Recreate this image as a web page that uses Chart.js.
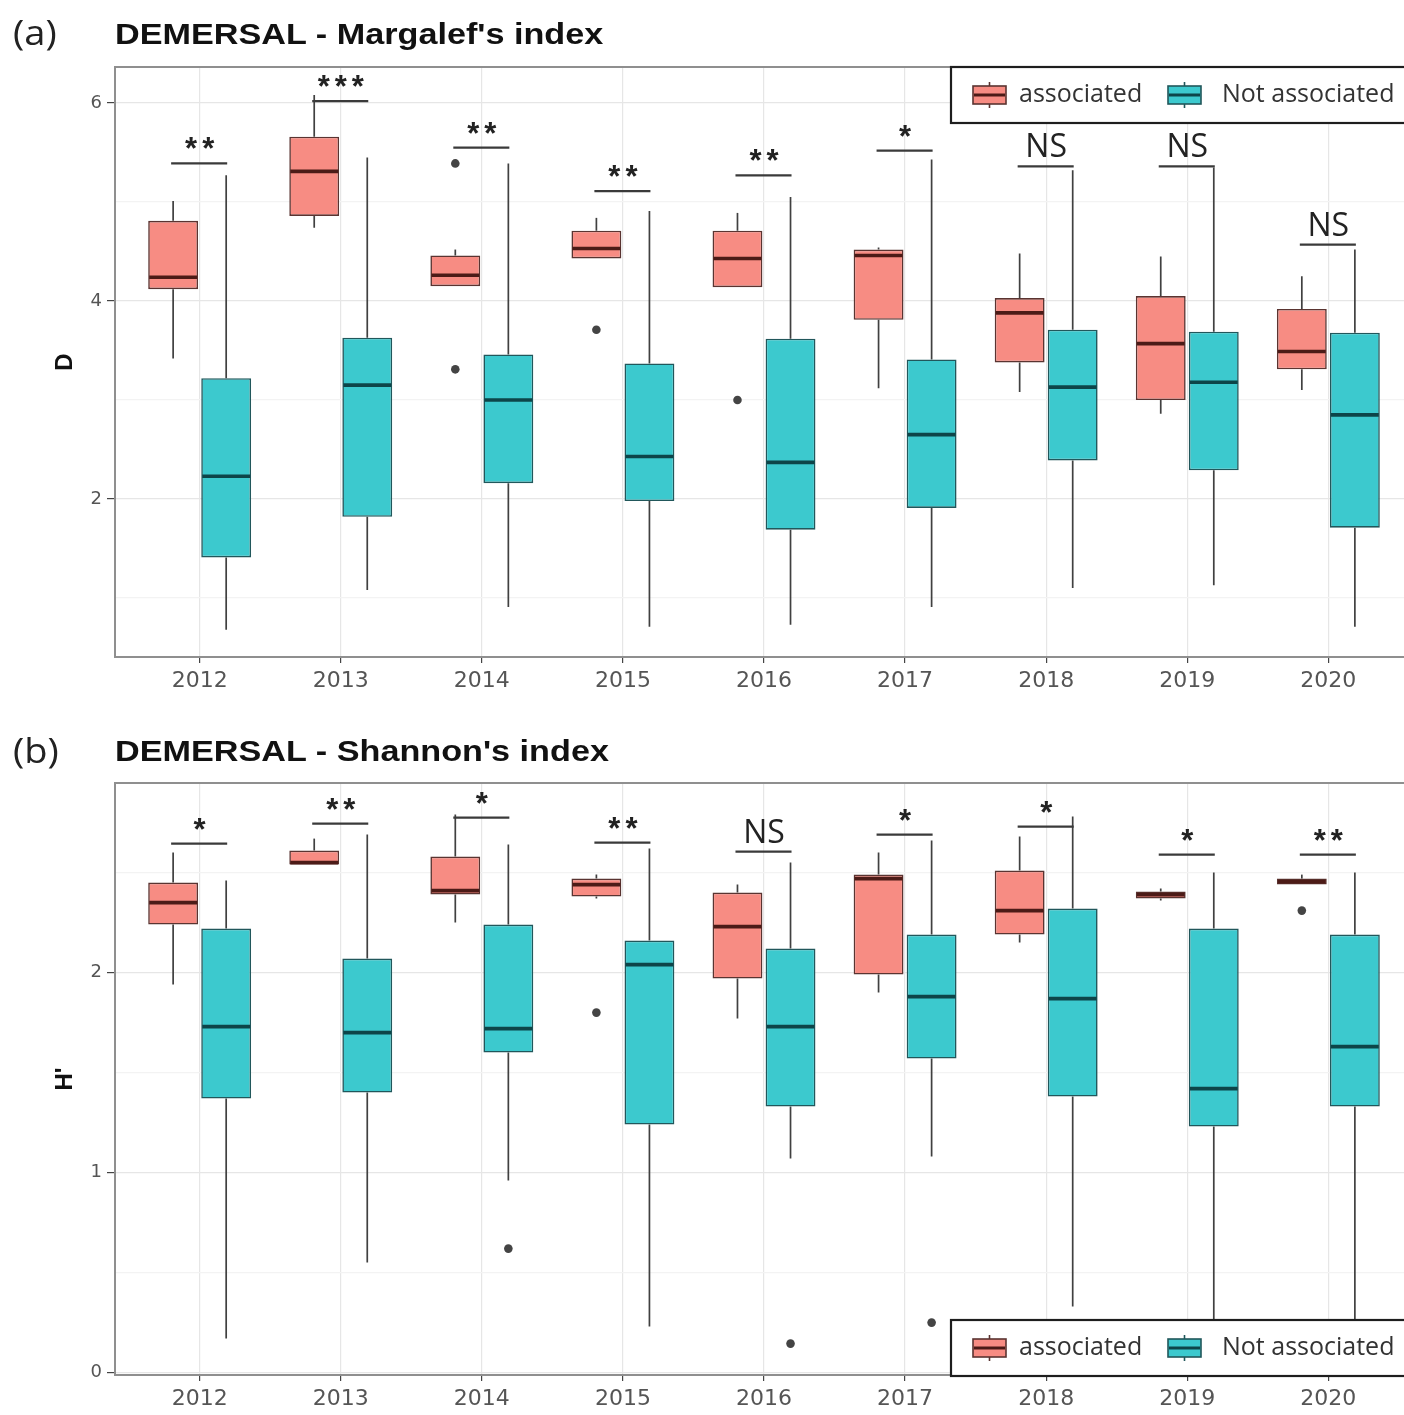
<!DOCTYPE html>
<html>
<head>
<meta charset="utf-8">
<title>DEMERSAL - diversity indices</title>
<script src="https://cdn.jsdelivr.net/npm/chart.js@4.4.1/dist/chart.umd.min.js"></script>
<style>
  html, body { margin: 0; padding: 0; background: #fff; overflow: hidden; width: 1404px; height: 1415px; }
  canvas { position: absolute; left: 0; }
  .tag { position: absolute; font-family: "Open Sans", sans-serif; font-size: 34px; color: #222; line-height: 1; transform: scaleX(1.12); transform-origin: left top; }
  .heading { position: absolute; font-family: "Liberation Sans", Arial, sans-serif; font-weight: bold; font-size: 30px; color: #111; line-height: 1; white-space: nowrap; transform: scaleX(1.14); transform-origin: left top; }
</style>
</head>
<body>
<canvas id="chartA" width="1420" height="700" style="top:0"></canvas>
<canvas id="chartB" width="1420" height="695" style="top:720px"></canvas>
<div class="tag" style="left:13px;top:15px">(a)</div>
<div class="heading" style="left:115px;top:19px">DEMERSAL - Margalef's index</div>
<div class="tag" style="left:13px;top:733px">(b)</div>
<div class="heading" style="left:115px;top:736px">DEMERSAL - Shannon's index</div>
<script>
// Survey years and groups
const years = [2012, 2013, 2014, 2015, 2016, 2017, 2018, 2019, 2020];
const seriesNames = ['associated', 'Not associated'];

// Margalef's index (D): [lower whisker, Q1, median, Q3, upper whisker] per year
const margalefAssociated = [
  [3.42, 4.12, 4.24, 4.81, 5.01],
  [4.74, 4.86, 5.31, 5.66, 6.08],
  [4.15, 4.15, 4.26, 4.46, 4.52],
  [4.43, 4.43, 4.53, 4.71, 4.84],
  [4.14, 4.14, 4.43, 4.71, 4.89],
  [3.12, 3.81, 4.46, 4.52, 4.54],
  [3.08, 3.38, 3.88, 4.03, 4.48],
  [2.86, 3.00, 3.57, 4.05, 4.45],
  [3.10, 3.31, 3.49, 3.92, 4.25]
];
const margalefNotAssociated = [
  [0.68, 1.41, 2.23, 3.22, 5.27],
  [1.08, 1.82, 3.15, 3.63, 5.45],
  [0.91, 2.16, 3.00, 3.46, 5.39],
  [0.71, 1.98, 2.43, 3.37, 4.91],
  [0.73, 1.69, 2.37, 3.62, 5.05],
  [0.91, 1.91, 2.65, 3.41, 5.43],
  [1.10, 2.39, 3.13, 3.71, 5.32],
  [1.13, 2.29, 3.18, 3.69, 5.35],
  [0.71, 1.71, 2.85, 3.68, 4.52]
];
const margalefAssociatedOutliers = [[], [], [5.39, 3.31], [3.71], [3.0], [], [], [], []];
const margalefNotAssociatedOutliers = [[], [], [], [], [], [], [], [], []];
const margalefSignif = ['**', '***', '**', '**', '**', '*', 'NS', 'NS', 'NS'];
const margalefSignifAt = [5.39, 6.02, 5.55, 5.11, 5.27, 5.52, 5.36, 5.36, 4.57];

// Shannon's index (H'): [lower whisker, Q1, median, Q3, upper whisker] per year
const shannonAssociated = [
  [1.94, 2.24, 2.35, 2.45, 2.60],
  [2.54, 2.54, 2.55, 2.61, 2.67],
  [2.25, 2.39, 2.41, 2.58, 2.79],
  [2.37, 2.38, 2.44, 2.47, 2.49],
  [1.77, 1.97, 2.23, 2.40, 2.44],
  [1.90, 1.99, 2.47, 2.49, 2.60],
  [2.15, 2.19, 2.31, 2.51, 2.68],
  [2.36, 2.37, 2.39, 2.405, 2.42],
  [2.44, 2.44, 2.455, 2.47, 2.49]
];
const shannonNotAssociated = [
  [0.17, 1.37, 1.73, 2.22, 2.46],
  [0.55, 1.40, 1.70, 2.07, 2.69],
  [0.96, 1.60, 1.72, 2.24, 2.64],
  [0.23, 1.24, 2.04, 2.16, 2.62],
  [1.07, 1.33, 1.73, 2.12, 2.55],
  [1.08, 1.57, 1.88, 2.19, 2.66],
  [0.33, 1.38, 1.87, 2.32, 2.78],
  [0.25, 1.23, 1.42, 2.22, 2.50],
  [0.20, 1.33, 1.63, 2.19, 2.50]
];
const shannonAssociatedOutliers = [[], [], [], [1.80], [], [], [], [], [2.31]];
const shannonNotAssociatedOutliers = [[], [], [0.62], [], [0.145], [0.25], [], [], []];
const shannonSignif = ['*', '**', '*', '**', 'NS', '*', '*', '*', '**'];
const shannonSignifAt = [2.645, 2.745, 2.775, 2.65, 2.605, 2.69, 2.73, 2.59, 2.59];

// Styling
const fills = ['#f78c83', '#3cc9ce'];
const edges = ['#5a3431', '#21575b'];
const medians = ['#4c1b17', '#0d4549'];
const tickFont = "'DejaVu Sans', sans-serif";

Chart.defaults.animation = false;

// Whiskers, medians, outliers, significance brackets, frame and legend for the box plots
const boxplotParts = {
  id: 'boxplotParts',
  beforeDatasetsDraw(chart) {
    const {ctx} = chart;
    const y = chart.scales.y;
    ctx.save();
    ctx.strokeStyle = '#404040';
    ctx.lineWidth = 1.7;
    chart.data.datasets.forEach((ds, di) => {
      chart.getDatasetMeta(di).data.forEach((bar, i) => {
        const s = ds.summary[i];
        ctx.beginPath();
        ctx.moveTo(bar.x, y.getPixelForValue(s[4]));
        ctx.lineTo(bar.x, y.getPixelForValue(s[3]));
        ctx.moveTo(bar.x, y.getPixelForValue(s[1]));
        ctx.lineTo(bar.x, y.getPixelForValue(s[0]));
        ctx.stroke();
      });
    });
    ctx.restore();
  },
  afterDatasetsDraw(chart, args, opts) {
    const {ctx} = chart;
    const y = chart.scales.y;
    ctx.save();
    chart.data.datasets.forEach((ds, di) => {
      chart.getDatasetMeta(di).data.forEach((bar, i) => {
        const s = ds.summary[i];
        const half = bar.width / 2 - 1;
        const my = y.getPixelForValue(s[2]);
        ctx.strokeStyle = ds.medianColor;
        ctx.lineWidth = 3.6;
        ctx.beginPath();
        ctx.moveTo(bar.x - half, my);
        ctx.lineTo(bar.x + half, my);
        ctx.stroke();
        ctx.fillStyle = '#444';
        ds.outliers[i].forEach(v => {
          ctx.beginPath();
          ctx.arc(bar.x, y.getPixelForValue(v), 4.3, 0, Math.PI * 2);
          ctx.fill();
        });
      });
    });
    // significance brackets between the two groups of each year
    const m0 = chart.getDatasetMeta(0).data;
    const m1 = chart.getDatasetMeta(1).data;
    opts.signif.forEach((label, i) => {
      const yy = y.getPixelForValue(opts.signifAt[i]);
      const xa = m0[i].x, xb = m1[i].x;
      ctx.strokeStyle = '#3a3a3a';
      ctx.lineWidth = 2.2;
      ctx.beginPath();
      ctx.moveTo(xa - 2, yy);
      ctx.lineTo(xb + 1, yy);
      ctx.stroke();
      ctx.fillStyle = '#222';
      ctx.textAlign = 'center';
      ctx.textBaseline = 'alphabetic';
      if (label === 'NS') {
        ctx.font = "32px 'Open Sans', sans-serif";
        ctx.letterSpacing = '0px';
        ctx.fillText(label, (xa + xb) / 2, yy - 9);
      } else {
        ctx.font = "bold 31px 'Liberation Sans', Arial, sans-serif";
        ctx.letterSpacing = '5px';
        ctx.fillText(label, (xa + xb) / 2 + 2.5, yy - 4);
      }
    });
    ctx.restore();
  },
  afterDraw(chart, args, opts) {
    const {ctx, chartArea: a} = chart;
    ctx.save();
    ctx.strokeStyle = '#8f8f8f';
    ctx.lineWidth = 2;
    ctx.strokeRect(a.left, a.top, a.right - a.left, a.bottom - a.top);
    // legend box
    const lt = opts.legendTop, lb = opts.legendBottom, lx = 951;
    ctx.fillStyle = '#fff';
    ctx.fillRect(lx, lt, chart.width - lx + 10, lb - lt);
    ctx.strokeStyle = '#1e1e1e';
    ctx.lineWidth = 2.2;
    ctx.strokeRect(lx, lt, chart.width - lx + 10, lb - lt);
    const cy = (lt + lb) / 2;
    const items = [{x: 973, tx: 1019}, {x: 1168, tx: 1222}];
    chart.data.datasets.forEach((ds, di) => {
      const it = items[di];
      const w = 33;
      const cx = it.x + w / 2;
      ctx.strokeStyle = ds.borderColor;
      ctx.lineWidth = 1.6;
      ctx.beginPath();
      ctx.moveTo(cx, cy - 13);
      ctx.lineTo(cx, cy + 13);
      ctx.stroke();
      ctx.fillStyle = ds.backgroundColor;
      ctx.fillRect(it.x, cy - 9, w, 18);
      ctx.strokeRect(it.x, cy - 9, w, 18);
      ctx.strokeStyle = ds.medianColor;
      ctx.lineWidth = 3;
      ctx.beginPath();
      ctx.moveTo(it.x + 1, cy);
      ctx.lineTo(it.x + w - 1, cy);
      ctx.stroke();
      ctx.fillStyle = '#333';
      ctx.font = "25px 'Open Sans', sans-serif";
      ctx.textAlign = 'left';
      ctx.textBaseline = 'middle';
      ctx.fillText(ds.label, it.tx, cy);
    });
    ctx.restore();
  }
};

function makePanel(id, o) {
  const sets = [o.assoc, o.notAssoc];
  const outs = [o.assocOut, o.notAssocOut];
  return new Chart(document.getElementById(id), {
    type: 'bar',
    data: {
      datasets: seriesNames.map((name, k) => ({
        label: name,
        data: years.map((yr, i) => ({x: yr, y: [sets[k][i][1], sets[k][i][3]]})),
        summary: sets[k],
        outliers: outs[k],
        backgroundColor: fills[k],
        borderColor: edges[k],
        medianColor: medians[k],
        borderWidth: 1.6,
        borderSkipped: false,
        categoryPercentage: 0.752,
        barPercentage: 0.94
      }))
    },
    options: {
      responsive: false,
      animation: false,
      layout: {padding: {left: 0, right: 7, top: o.padTop, bottom: 0}},
      plugins: {
        legend: {display: false},
        tooltip: {enabled: false},
        boxplotParts: {signif: o.signif, signifAt: o.signifAt, legendTop: o.legendTop, legendBottom: o.legendBottom}
      },
      scales: {
        x: {
          type: 'linear',
          min: 2011.4,
          max: 2020.6,
          offset: false,
          afterBuildTicks: s => { s.ticks = years.map(v => ({value: v})); },
          afterFit: s => { s.height = o.xAxisHeight; },
          ticks: {callback: v => String(v), font: {family: tickFont, size: 22}, color: '#555', padding: 5, maxRotation: 0, autoSkip: false},
          grid: {offset: false, color: '#e6e6e6', lineWidth: 1.2, tickLength: 6, tickColor: '#444'},
          border: {display: false}
        },
        y: {
          type: 'linear',
          min: o.yMin,
          max: o.yMax,
          afterBuildTicks: s => { s.ticks = o.yTicks.map(v => ({value: v})); },
          afterFit: s => { s.width = 115; },
          ticks: {callback: v => o.isMajor(v) ? String(v) : '', font: {family: tickFont, size: 18}, color: '#555', padding: 5},
          grid: {
            color: c => o.isMajor(c.tick.value) ? '#e6e6e6' : '#f3f3f3',
            lineWidth: 1.2,
            tickLength: 8,
            tickColor: c => o.isMajor(c.tick.value) ? '#444' : 'rgba(0,0,0,0)'
          },
          border: {display: false},
          title: {display: true, text: o.axisTitle, font: {family: "'Liberation Sans', Arial, sans-serif", size: 24, weight: 'bold'}, color: '#111', padding: {top: 51, bottom: 0}}
        }
      }
    },
    plugins: [boxplotParts]
  });
}

makePanel('chartA', {
  assoc: margalefAssociated, notAssoc: margalefNotAssociated,
  assocOut: margalefAssociatedOutliers, notAssocOut: margalefNotAssociatedOutliers,
  signif: margalefSignif, signifAt: margalefSignifAt,
  yMin: 0.404, yMax: 6.364, yTicks: [1, 2, 3, 4, 5, 6],
  isMajor: v => v % 2 === 0,
  axisTitle: 'D',
  padTop: 67, xAxisHeight: 43,
  legendTop: 67, legendBottom: 123
});

makePanel('chartB', {
  assoc: shannonAssociated, notAssoc: shannonNotAssociated,
  assocOut: shannonAssociatedOutliers, notAssocOut: shannonNotAssociatedOutliers,
  signif: shannonSignif, signifAt: shannonSignifAt,
  yMin: -0.012, yMax: 2.948, yTicks: [0, 0.5, 1, 1.5, 2, 2.5],
  isMajor: v => Number.isInteger(v),
  axisTitle: "H'",
  padTop: 63, xAxisHeight: 40,
  legendTop: 600, legendBottom: 656
});
</script>
</body>
</html>
